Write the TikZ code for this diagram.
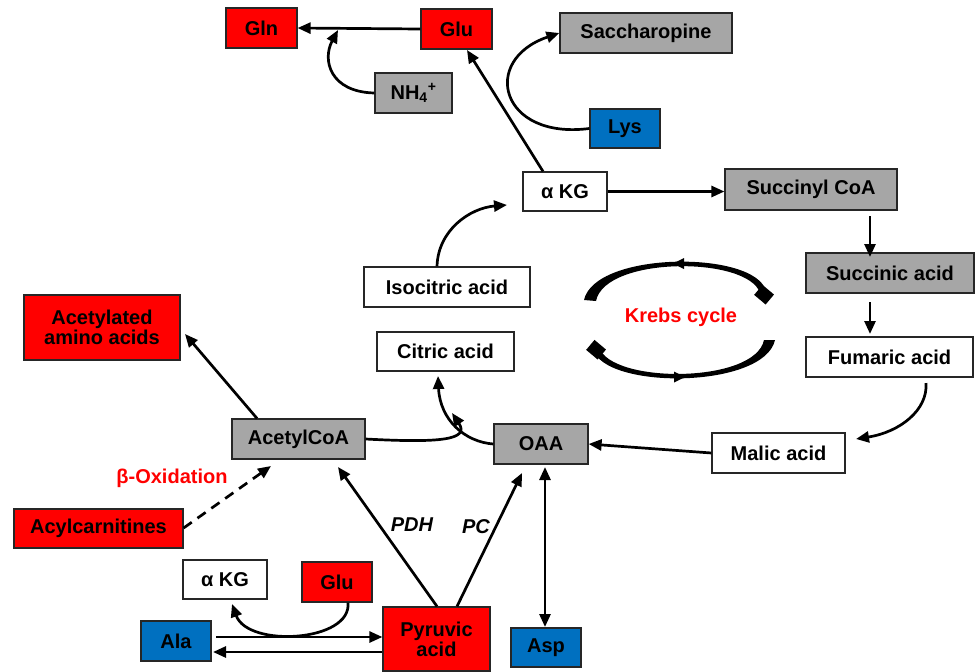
\documentclass[tikz,border=0pt]{standalone}
\usepackage{fontspec}
\setmainfont{Liberation Sans}
\usetikzlibrary{arrows.meta}
\definecolor{boxred}{HTML}{FF0000}
\definecolor{boxgray}{HTML}{A6A6A6}
\definecolor{boxblue}{HTML}{0070C0}
\definecolor{boxline}{HTML}{262626}
\tikzset{
  bx/.style={draw=boxline, line width=1.2pt, inner sep=0pt, font=\fontsize{20}{22}\selectfont\bfseries, align=center},
  redbx/.style={bx, fill=boxred},
  graybx/.style={bx, fill=boxgray},
  bluebx/.style={bx, fill=boxblue},
  whitebx/.style={bx, fill=white},
  tip/.style={-{Triangle[length=13pt,width=11pt]}},
  arr/.style={line width=2.7pt, tip},
  dblarr/.style={line width=2.7pt, {Triangle[length=13pt,width=11pt]}-{Triangle[length=13pt,width=11pt]}},
  lbl/.style={font=\fontsize{20}{22}\selectfont\bfseries},
}
\begin{document}
\begin{tikzpicture}[x=1pt,y=-1pt]
\useasboundingbox (0,0) rectangle (975,672);
% nodes
\node[redbx, minimum width=71pt, minimum height=40pt] (gln) at (261.5,28) {Gln};
\node[redbx, minimum width=71pt, minimum height=40pt] (glu) at (456.5,29) {Glu};
\node[graybx, minimum width=172pt, minimum height=40pt] (sacc) at (646,33) {Saccharopine};
\node[graybx, minimum width=77pt, minimum height=40pt] (nh) at (413.5,93) {NH\textsubscript{4}\textsuperscript{+}};
\node[bluebx, minimum width=70pt, minimum height=39pt] (lys) at (625,128.5) {Lys};
\node[whitebx, minimum width=84pt, minimum height=39pt] (akg) at (565,191.5) {α KG};
\node[graybx, minimum width=172pt, minimum height=41pt] (succoa) at (811,189.5) {Succinyl CoA};
\node[graybx, minimum width=168pt, minimum height=40pt] (succ) at (890,273) {Succinic acid};
\node[whitebx, minimum width=167pt, minimum height=40pt] (fum) at (889.5,357) {Fumaric acid};
\node[whitebx, minimum width=133pt, minimum height=40pt] (mal) at (778.5,453) {Malic acid};
\node[graybx, minimum width=94pt, minimum height=40pt] (oaa) at (541,444) {OAA};
\node[whitebx, minimum width=137pt, minimum height=39pt] (cit) at (445.5,351.5) {Citric acid};
\node[whitebx, minimum width=166pt, minimum height=40pt] (iso) at (447,287) {Isocitric acid};
\node[graybx, minimum width=133pt, minimum height=40pt] (acoa) at (298.5,439) {AcetylCoA};
\node[redbx, minimum width=156pt, minimum height=65pt] (acam) at (102,327.5) {Acetylated\\[-2pt]amino acids};
\node[redbx, minimum width=169pt, minimum height=39pt] (acyl) at (98.5,528.5) {Acylcarnitines};
\node[whitebx, minimum width=84pt, minimum height=39pt] (akgb) at (225,579.5) {α KG};
\node[redbx, minimum width=70pt, minimum height=40pt] (glub) at (337,582) {Glu};
\node[bluebx, minimum width=70pt, minimum height=40pt] (ala) at (176,641) {Ala};
\node[redbx, minimum width=107pt, minimum height=64pt] (pyr) at (436.5,639) {Pyruvic\\[-2pt]acid};
\node[bluebx, minimum width=70pt, minimum height=39pt] (asp) at (546,647.5) {Asp};
% labels
\node[lbl, text=boxred] (krebs) at (681,317) {Krebs cycle};
\node[lbl, text=boxred] (beta) at (172,478) {β-Oxidation};
\node[lbl, font=\fontsize{20}{22}\selectfont\bfseries\itshape] (pdh) at (412,525) {PDH};
\node[lbl, font=\fontsize{20}{22}\selectfont\bfseries\itshape] (pc) at (476,527) {PC};
% coordinates
\coordinate (nhtip) at (338,30);
\coordinate (acamtip) at (185,334);
\coordinate (acyltip) at (271,466);
\coordinate (acoamid) at (452,413);
% connectors
\draw[arr] (glu.west) -- (gln.east);
\draw[arr] (nh.west) .. controls (330,92) and (322,60) .. (nhtip);
\draw[arr] (akg.north -| 543,0) -- (467,50);
\draw[arr] (lys.west) .. controls (500,140) and (480,60) .. (sacc.west);
\draw[arr] (akg.east) -- (succoa.west |- akg.east);
\draw[arr] (870,216) -- (870,257);
\draw[arr] (870,302) -- (870,334);
\draw[arr] (926,383) .. controls (928,410) and (900,432) .. (856,439);
\draw[arr] (mal.west) -- (oaa.east);
\draw[dblarr] (545,467) -- (545,627);
\draw[arr] (iso.north -| 437,0) .. controls (438,230) and (470,208) .. (507,205);
\draw[arr] (oaa.west) .. controls (465,442) and (440,420) .. (438,376);
\draw[arr] (acoa.east) .. controls (440,443) and (470,440) .. (acoamid);
\draw[arr] (acoa.north -| 257,0) -- (acamtip);
\draw[line width=2.7pt, dash pattern=on 10pt off 7pt, tip] (acyl.east |- 0,528) -- (acyltip);
\draw[arr] (pyr.north -| 437,0) -- (338,467);
\draw[arr] (pyr.north -| 457,0) -- (522,473);
\draw[arr] (glub.south -| 348,0) .. controls (352,642) and (248,648) .. (232,604);
\draw[arr] (216,637) -- (pyr.west |- 0,637);
\draw[arr] (pyr.west |- 0,652) -- (213,652);
% Krebs cycle arcs
\fill (584,300) .. controls (595,251) and (755,250) .. (766,291)
  -- (760,293) .. controls (748,256) and (605,256) .. (596,301) -- cycle;
\fill[rotate around={-40:(764,294)}] (757,288) rectangle (772,301);
\fill (673,263.5) -- (684,258) -- (684,269) -- cycle;
\fill (775,340) .. controls (764,389) and (604,390) .. (593,349)
  -- (599,347) .. controls (610,384) and (755,384) .. (764,340) -- cycle;
\fill[rotate around={-40:(596,349)}] (589,343) rectangle (604,356);
\fill (685,377) -- (674,371.5) -- (674,382.5) -- cycle;
\end{tikzpicture}
\end{document}
